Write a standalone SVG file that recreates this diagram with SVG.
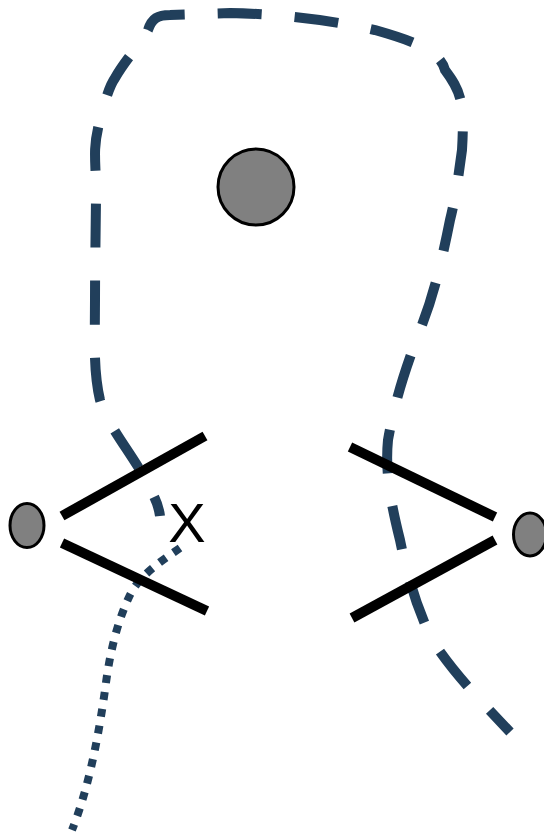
<svg xmlns="http://www.w3.org/2000/svg" width="544" height="836" viewBox="0 0 544 836">
<style>
.bar{stroke:#000;stroke-width:10;fill:none}
.node{fill:#808080;stroke:#000;stroke-width:3}
.dash{fill:none;stroke:#213f5b;stroke-width:10;stroke-dasharray:44 33;stroke-dashoffset:24}
.dot{fill:none;stroke:#213f5b;stroke-width:8;stroke-dasharray:8 9}
.lbl{font-family:"Liberation Sans",Arial,sans-serif;font-size:56px;fill:#000}
</style>
<rect width="544" height="836" fill="#fff"/>
<g id="connectors">
<path class="dash" d="M160 516 C158 500 150 490 140 470 C125 445 108 425 100 400 C93 370 95 340 95 300 C95 260 96 220 96 190 C96 160 92 150 100 120 C105 100 110 85 115 78 C125 60 140 45 148 30 C152 18 158 15 170 15 L230 13 C280 14 330 20 375 30 C410 40 440 50 445 70 C460 90 465 100 462 150 C458 180 455 200 450 220 C440 270 432 300 420 330 C405 370 395 400 388 440 C385 470 390 500 400 540 C408 580 418 610 432 640 C455 675 480 700 510 732"/>
<path class="dot" d="M180 548 C160 562 140 575 130 595 C118 620 110 650 105 690 C98 740 88 790 72 830"/>
</g>
<g id="wedge-left">
<line class="bar" x1="62" y1="516" x2="205" y2="436"/>
<line class="bar" x1="62" y1="543" x2="207" y2="611"/>
</g>
<g id="wedge-right">
<line class="bar" x1="350" y1="447" x2="495" y2="517"/>
<line class="bar" x1="352" y1="618" x2="495" y2="540"/>
</g>
<g id="center-node"><circle class="node" cx="256" cy="187" r="38"/></g>
<g id="left-node"><ellipse class="node" cx="27" cy="525.5" rx="17" ry="22"/></g>
<g id="right-node"><ellipse class="node" cx="530" cy="534.5" rx="16.5" ry="21.5"/></g>
<g id="label-x"><text class="lbl" x="187" y="542" text-anchor="middle">X</text></g>
</svg>
